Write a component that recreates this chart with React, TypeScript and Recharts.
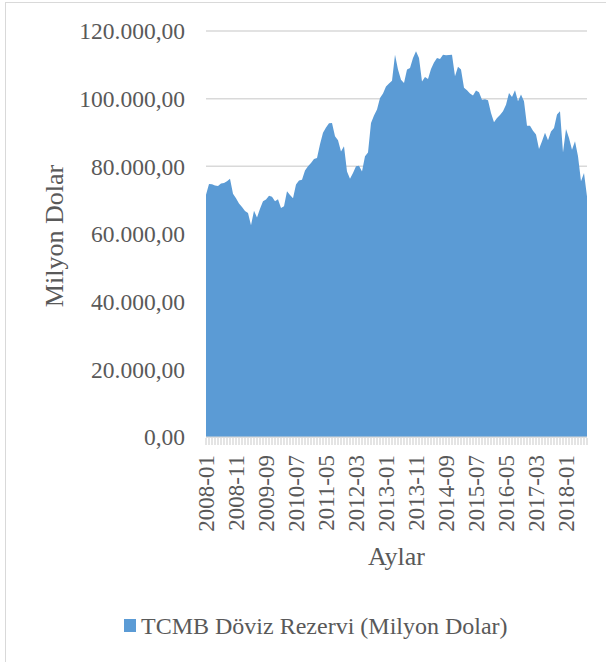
import React from 'react';
import { AreaChart, Area, XAxis, YAxis, CartesianGrid, Legend } from 'recharts';

const months: string[] = [
  '2008-01','2008-02','2008-03','2008-04','2008-05','2008-06','2008-07','2008-08','2008-09','2008-10','2008-11','2008-12',
  '2009-01','2009-02','2009-03','2009-04','2009-05','2009-06','2009-07','2009-08','2009-09','2009-10','2009-11','2009-12',
  '2010-01','2010-02','2010-03','2010-04','2010-05','2010-06','2010-07','2010-08','2010-09','2010-10','2010-11','2010-12',
  '2011-01','2011-02','2011-03','2011-04','2011-05','2011-06','2011-07','2011-08','2011-09','2011-10','2011-11','2011-12',
  '2012-01','2012-02','2012-03','2012-04','2012-05','2012-06','2012-07','2012-08','2012-09','2012-10','2012-11','2012-12',
  '2013-01','2013-02','2013-03','2013-04','2013-05','2013-06','2013-07','2013-08','2013-09','2013-10','2013-11','2013-12',
  '2014-01','2014-02','2014-03','2014-04','2014-05','2014-06','2014-07','2014-08','2014-09','2014-10','2014-11','2014-12',
  '2015-01','2015-02','2015-03','2015-04','2015-05','2015-06','2015-07','2015-08','2015-09','2015-10','2015-11','2015-12',
  '2016-01','2016-02','2016-03','2016-04','2016-05','2016-06','2016-07','2016-08','2016-09','2016-10','2016-11','2016-12',
  '2017-01','2017-02','2017-03','2017-04','2017-05','2017-06','2017-07','2017-08','2017-09','2017-10','2017-11','2017-12',
  '2018-01','2018-02','2018-03','2018-04','2018-05','2018-06','2018-07','2018-08',
];

const reserves: number[] = [
  71600, 74800, 74700, 74300, 74200, 74900, 75100, 75600, 76300, 71900, 70600, 69000,
  68000, 66800, 66200, 62600, 66900, 64900, 67500, 69700, 70200, 71300, 71000, 69700,
  70300, 67700, 68200, 72600, 71500, 70600, 74600, 75800, 76000, 78800, 80000, 81000,
  82200, 82500, 86500, 89900, 91500, 92700, 92800, 88900, 87700, 84400, 85900, 78500,
  76300, 78000, 80000, 80200, 78500, 83000, 84100, 92800, 95000, 96800, 100200, 101500,
  103600, 104500, 105300, 113000, 108600, 105600, 104600, 108600, 109100, 112000, 114000, 112000,
  105100, 106400, 105800, 108800, 110700, 112000, 111700, 113000, 112800, 112900, 113000, 106600,
  109400, 108600, 103200, 102500, 101500, 100900, 102400, 101900, 99700, 99800, 99500, 95800,
  93000, 94300, 95200, 96300, 98200, 101700, 100500, 102500, 99200, 101200, 99200, 92000,
  92000, 90500, 89400, 85100, 87400, 89900, 87700, 90300, 91300, 95300, 96300, 84100,
  91000, 88400, 84900, 87400, 83000, 75600, 78000, 71100,
];

const yTicks: number[] = [0, 20000, 40000, 60000, 80000, 100000, 120000];
const seriesName = 'TCMB Döviz Rezervi (Milyon Dolar)';
const xTitle = 'Aylar';
const yTitle = 'Milyon Dolar';

const data = months.map((m, i) => ({ month: m, value: reserves[i] }));

const FONT = "'Liberation Serif', 'Times New Roman', serif";
const TEXT = '#595959';
const FILL = '#5B9BD5';

const fmt = (v: number) => {
  const s = Math.round(v).toString().replace(/\B(?=(\d{3})+(?!\d))/g, '.');
  return s + ',00';
};

const XTick = (props: any) => {
  const { x, y, payload, index } = props;
  const idx = payload && typeof payload.index === 'number' ? payload.index : index;
  return (
    <g>
      <line x1={x} x2={x} y1={y + 1} y2={y + 8} stroke="#C9C9C9" strokeWidth={1} />
      {idx % 10 === 0 ? (
        <text
          x={x}
          y={y + 18}
          transform={`rotate(-90, ${x}, ${y + 18})`}
          textAnchor="end"
          dy="0.34em"
          fontFamily={FONT}
          fontSize={23}
          fill={TEXT}
        >
          {payload.value}
        </text>
      ) : null}
    </g>
  );
};

const renderLegend = () => (
  <div style={{ position: 'relative', width: 606, height: 40 }}>
    <div style={{ position: 'absolute', left: 124, top: 13, width: 12, height: 13, background: FILL }} />
    <div
      style={{
        position: 'absolute',
        left: 141,
        top: 0,
        height: 40,
        lineHeight: '40px',
        fontFamily: FONT,
        fontSize: 24,
        color: TEXT,
        whiteSpace: 'nowrap',
      }}
    >
      {seriesName}
    </div>
  </div>
);

export default function App() {
  return (
    <div style={{ position: 'fixed', left: 0, top: 0, width: 606, height: 662, overflow: 'hidden', background: '#fff' }}>
      <div
        style={{
          position: 'absolute',
          left: 5,
          top: 2,
          width: 640,
          height: 700,
          border: '1px solid #D9D9D9',
          boxSizing: 'border-box',
        }}
      />
      <div style={{ position: 'absolute', left: 0, top: 0 }}>
        <AreaChart width={606} height={662} data={data} margin={{ top: 31, right: 19, left: 0, bottom: 16 }}>
          <CartesianGrid vertical={false} stroke="#D9D9D9" strokeWidth={1.5} />
          <XAxis
            dataKey="month"
            interval={0}
            height={169}
            tickSize={0}
            tickMargin={0}
            tickLine={false}
            axisLine={{ stroke: '#D9D9D9', strokeWidth: 1 }}
            tick={<XTick />}
            label={(p: any) => {
              const vb = p.viewBox || { x: 206, y: 437, width: 381 };
              return (
                <text
                  x={vb.x + vb.width / 2}
                  y={vb.y + 128}
                  textAnchor="middle"
                  fontFamily={FONT}
                  fontSize={26}
                  fill={TEXT}
                >
                  {xTitle}
                </text>
              );
            }}
          />
          <YAxis
            width={206}
            domain={[0, 120000]}
            ticks={yTicks}
            interval={0}
            axisLine={false}
            tickLine={false}
            tickSize={0}
            tickMargin={21}
            tickFormatter={fmt}
            tick={{ fontFamily: FONT, fontSize: 23.5, fill: TEXT }}
            label={(p: any) => {
              const vb = p.viewBox || { x: 0, y: 31, height: 406 };
              const cy = vb.y + vb.height / 2 + 2;
              return (
                <text
                  x={63}
                  y={cy}
                  transform={`rotate(-90, 63, ${cy})`}
                  textAnchor="middle"
                  fontFamily={FONT}
                  fontSize={26}
                  fill={TEXT}
                >
                  {yTitle}
                </text>
              );
            }}
          />
          <Legend
            verticalAlign="bottom"
            height={40}
            content={renderLegend}
            wrapperStyle={{ left: 0, width: 606, height: 40 }}
          />
          <Area
            type="linear"
            dataKey="value"
            name={seriesName}
            stroke="none"
            fill={FILL}
            fillOpacity={1}
            isAnimationActive={false}
          />
        </AreaChart>
      </div>
    </div>
  );
}
